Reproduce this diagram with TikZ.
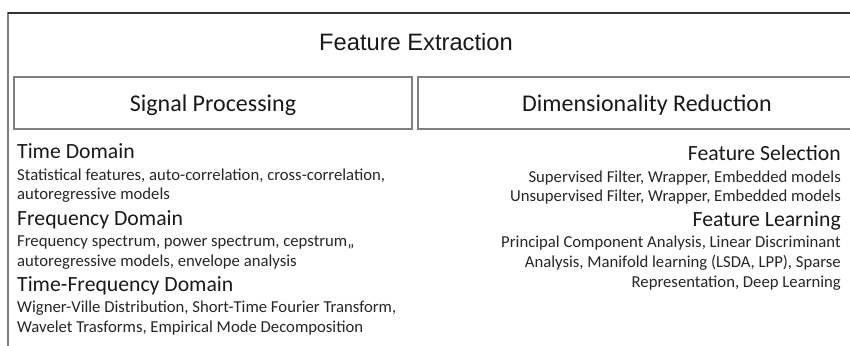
\documentclass[tikz,border=0pt]{standalone}
\usepackage{fontspec}
\setmainfont{Carlito}
\newfontfamily\titlefont{Liberation Sans}
\begin{document}
\begin{tikzpicture}[x=1pt,y=-1pt,
  boxline/.style={draw=black!50, line width=1.6pt},
  titletext/.style={inner sep=0pt, anchor=base, text=black!90, font=\titlefont\fontsize{23.7}{28}\selectfont},
  headtext/.style={inner sep=0pt, anchor=base, text=black!90, font=\fontsize{24}{28}\selectfont},
  subleft/.style={inner sep=0pt, anchor=base west, text=black!90, font=\fontsize{21.7}{26}\selectfont},
  subright/.style={inner sep=0pt, anchor=base east, text=black!90, font=\fontsize{21.7}{26}\selectfont},
  bodyleft/.style={inner sep=0pt, anchor=base west, text=black!85, font=\fontsize{16.7}{20}\selectfont},
  bodyright/.style={inner sep=0pt, anchor=base east, text=black!85, font=\fontsize{16.7}{20}\selectfont}]
\useasboundingbox (0,0) rectangle (850,345);
\begin{scope}
\clip (0,0) rectangle (850,345);
\draw[boxline] (8,13) rectangle (884,360);
\draw[boxline, draw=black!80] (8,13) -- (884,13);
\draw[boxline] (14,77) rectangle (412,129);
\draw[boxline] (418,77) rectangle (878,129);
\end{scope}
\node[titletext] (title) at (416,51) {Feature Extraction};
\node[headtext] (sp) at (213,111) {Signal Processing};
\node[headtext] (dr) at (647,111) {Dimensionality Reduction};
% left column
\node[subleft] (td) at (17,158) {Time Domain};
\node[bodyleft] (td1) at (17,180) {Statistical features, auto-correlation, cross-correlation,};
\node[bodyleft] (td2) at (17,199.5) {autoregressive models};
\node[subleft] (fd) at (17,225) {Frequency Domain};
\node[bodyleft] (fd1) at (17,246) {Frequency spectrum, power spectrum, cepstrum,,};
\node[bodyleft] (fd2) at (17,266) {autoregressive models, envelope analysis};
\node[subleft] (tfd) at (17,291) {Time-Frequency Domain};
\node[bodyleft] (tfd1) at (17,312) {Wigner-Ville Distribution, Short-Time Fourier Transform,};
\node[bodyleft] (tfd2) at (17,332) {Wavelet Trasforms, Empirical Mode Decomposition};
% right column
\node[subright] (fs) at (841,160) {Feature Selection};
\node[bodyright] (fs1) at (841,182) {Supervised Filter, Wrapper, Embedded models};
\node[bodyright] (fs2) at (841,201.5) {Unsupervised Filter, Wrapper, Embedded models};
\node[subright] (fl) at (841,226.5) {Feature Learning};
\node[bodyright] (fl1) at (841,247.5) {Principal Component Analysis, Linear Discriminant};
\node[bodyright] (fl2) at (841,267.5) {Analysis, Manifold learning (LSDA, LPP), Sparse};
\node[bodyright] (fl3) at (841,287.5) {Representation, Deep Learning};
\end{tikzpicture}
\end{document}
